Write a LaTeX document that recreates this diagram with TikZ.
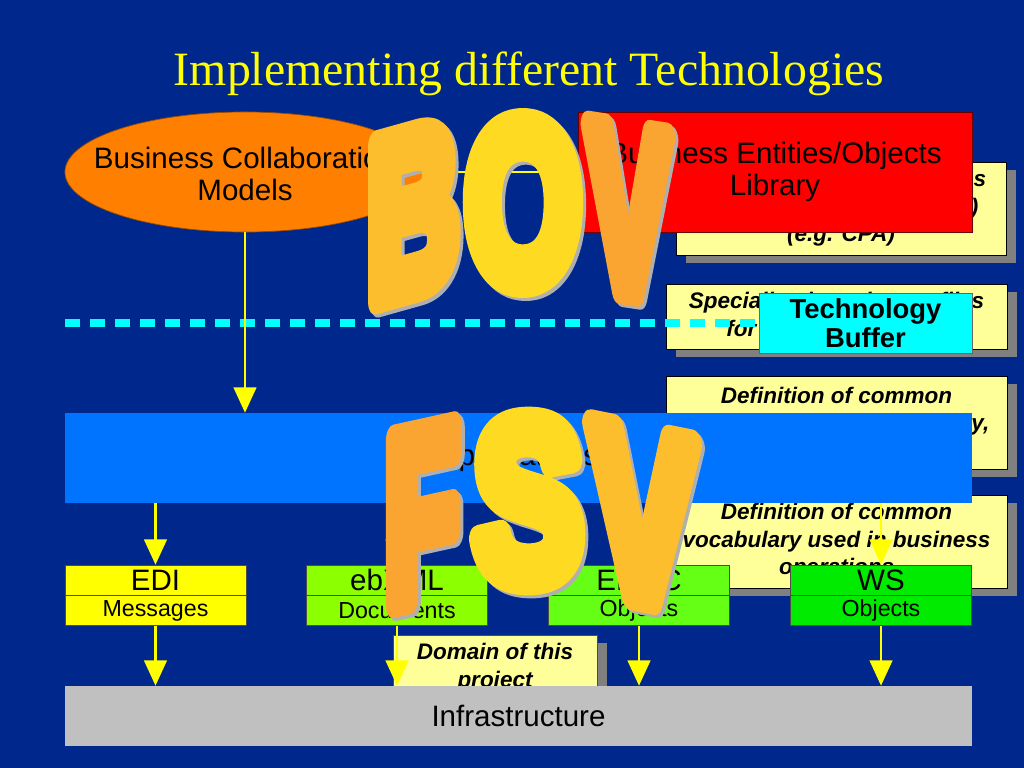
\documentclass[tikz,border=0pt]{standalone}
\usepackage{fontspec}
\setmainfont{Liberation Sans}
\newfontfamily\titlefont{Liberation Serif}
\newfontfamily\wordartfont{Liberation Sans}[BoldFeatures={FakeBold=12}]
\usetikzlibrary{shapes.geometric,arrows.meta,positioning,calc,shadows}
\definecolor{slidebg}{RGB}{0,40,140}
\definecolor{slideyellow}{RGB}{255,255,0}
\definecolor{buffercyan}{RGB}{0,255,255}
\definecolor{bcmorange}{RGB}{255,128,0}
\definecolor{belred}{RGB}{255,0,0}
\definecolor{notefill}{RGB}{255,255,153}
\definecolor{shadowgray}{RGB}{128,128,128}
\definecolor{appsblue}{RGB}{0,115,255}
\definecolor{edicolor}{RGB}{255,255,0}
\definecolor{ebxmlcolor}{RGB}{140,255,0}
\definecolor{edoccolor}{RGB}{100,255,20}
\definecolor{wscolor}{RGB}{0,235,0}
\definecolor{infragray}{RGB}{192,192,192}
\definecolor{wordorange}{RGB}{250,165,50}
\definecolor{wordamber}{RGB}{253,190,45}
\definecolor{wordyellow}{RGB}{255,218,35}
\definecolor{wordartedge}{RGB}{175,175,175}

\begin{document}
\begin{tikzpicture}[
  x=0.025cm, y=-0.025cm,
  note/.style={draw=black, line width=0.5pt, fill=notefill, align=center,
    font=\fontsize{16}{19.5}\selectfont\bfseries\itshape,
    general shadow={fill=shadowgray, shadow xshift=0.25cm, shadow yshift=-0.2cm}},
  techtop/.style={draw=black!70, line width=0.4pt, minimum width=4.525cm,
    minimum height=0.75cm, inner sep=0pt, font=\fontsize{21}{24}\selectfont},
  techbot/.style={techtop, font=\fontsize{16.5}{19}\selectfont},
  bar/.style={minimum width=22.675cm, inner sep=0pt, font=\fontsize{21}{24}\selectfont},
  flow/.style={draw=slideyellow, line width=2pt, -{Triangle[width=16pt,length=18pt]}},
  wordart/.style={font=\wordartfont\bfseries\fontsize{100}{100}\selectfont,
    inner sep=0pt, line join=round}
]

\useasboundingbox (0,0) rectangle (1024,768);
\fill[slidebg] (0,0) rectangle (1024,768);

% ---- Title ----
\node[font=\titlefont\fontsize{34}{38}\selectfont, text=slideyellow] (title) at (529,74)
  {Implementing different Technologies};

% ---- Notes on the right ----
\node[note, minimum width=8.25cm, minimum height=2.325cm] (profiles) at (841,208.5)
  {Business partners' profiles\\and agreement (e.g. CPP)\\(e.g. CPA)};
\node[note, minimum width=8.525cm, minimum height=1.625cm] (special) at (836.5,316.5)
  {Specialised service profiles\\for application areas};
\node[note, minimum width=8.525cm, minimum height=2.325cm] (semantics) at (836.5,422.5)
  {Definition of common\\semantics of the BO Library,\\~};
\node[note, minimum width=8.525cm, minimum height=2.325cm] (vocab) at (836.5,541.5)
  {Definition of common\\vocabulary used in business\\operations};

% ---- Business level ----
\node[ellipse, draw=orange!60!black, line width=0.5pt, fill=bcmorange,
  minimum width=9cm, minimum height=3cm] (bcm) at (245,172) {};
\node[font=\fontsize{21}{23}\selectfont, align=center] (bcmtext) at (245,174)
  {Business Collaboration\\Models};
\node[draw=red!40!black, line width=0.5pt, fill=belred, minimum width=9.85cm,
  minimum height=3cm, align=center, font=\fontsize{21}{23}\selectfont] (bel) at (775,172)
  {Business Entities/Objects\\Library};
\draw[slideyellow, line width=2pt] (bcm.east) -- (bel.west);

% ---- Technology buffer line ----
\node[draw=black!60, line width=0.5pt, fill=buffercyan, minimum width=5.325cm,
  minimum height=1.5cm, align=center, font=\fontsize{19.5}{21}\selectfont\bfseries]
  (buffer) at (865.5,323) {Technology\\Buffer};
\coordinate (bufferline) at (65,323);
\draw[buffercyan, line width=5pt, dash pattern=on 0.375cm off 0.25cm] (bufferline) -- (buffer.west);

% ---- Applications ----
\node[bar, fill=appsblue, minimum height=2.25cm] (apps) at (518.5,458) {Applications};
\draw[flow] (bcm.south) -- (bcm.south |- apps.north);

% ---- Technologies ----
\foreach \tech/\xpos/\col/\head/\kind in {edi/155.5/edicolor/EDI/Messages,
    ebxml/397/ebxmlcolor/ebXML/Documents, edoc/639/edoccolor/EDOC/Objects,
    ws/881/wscolor/WS/Objects} {
  \node[techtop, fill=\col] (\tech) at (\xpos,580) {\head};
  \node[techbot, fill=\col, below=0pt of \tech] (\tech-sub) {\kind};
  \draw[flow] (\tech |- apps.south) -- (\tech.north);
}

% ---- Domain + infrastructure ----
\node[note, draw=belred, minimum width=5.1cm, minimum height=1.625cm] (domain) at (495,667.5)
  {Domain of this\\project};
\node[bar, fill=infragray, minimum height=1.5cm] (infra) at (518.5,716) {Infrastructure};
\foreach \tech in {edi,ebxml,edoc,ws}
  \draw[flow] (\tech-sub.south) -- (\tech-sub.south |- infra.north);

% ---- Word art (grey edge under each letter) ----
\foreach \id/\ch/\xpos/\ypos/\slant/\sx/\sy/\col in {
    b/B/413/212/0.28/0.9/1.62/wordamber, o/O/523/203/0/1.05/1.63/wordyellow,
    v/V/628/211/-0.15/0.87/1.66/wordorange,
    f/F/422/515/0.22/0.86/1.7/wordorange, s/S/528/501/0/1.15/1.62/wordyellow,
    w/V/642/516/-0.2/1.1/1.7/wordamber} {
  \node[wordart, text=wordartedge, yslant=\slant, xscale=\sx, yscale=\sy]
    (art\id-edge) at (\xpos+3,\ypos+3) {\ch};
  \node[wordart, text=\col, yslant=\slant, xscale=\sx, yscale=\sy]
    (art\id) at (\xpos,\ypos) {\ch};
}

\end{tikzpicture}
\end{document}
